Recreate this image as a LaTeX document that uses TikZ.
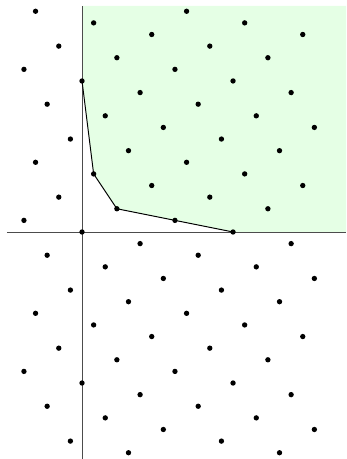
\documentclass[tikz,border=0pt]{standalone}
\begin{document}
\begin{tikzpicture}[x=0.3cm,y=0.3cm,
  region/.style={fill=green!10,draw=none},
  axisline/.style={draw=black!70,line width=0.7pt},
  hull/.style={draw=black,line width=0.7pt,line join=round},
  latpt/.style={fill=black}]
\useasboundingbox (-7.06,-19.54) rectangle (22.73,19.97);
\coordinate (h0) at (0,13);
\coordinate (h1) at (1,5);
\coordinate (h2) at (3,2);
\coordinate (h3) at (8,1);
\coordinate (h4) at (13,0);
\coordinate (top) at (0,19.46);
\coordinate (tr) at (22.73,19.46);
\coordinate (br) at (22.73,0);
\coordinate (xl) at (-6.46,0);
\coordinate (yb) at (0,-19.5);
\fill[region] (top) -- (h0) -- (h1) -- (h2) -- (h3) -- (h4) -- (br) -- (tr) -- cycle;
\draw[axisline] (xl) -- (br);
\draw[axisline] (yb) -- (top);
\draw[hull] (h0) -- (h1) -- (h2) -- (h3) -- (h4);
\foreach \x in {-5,...,20}{
  \foreach \y in {-19,...,19}{
    \pgfmathtruncatemacro\r{Mod(\y-5*\x,13)}
    \ifnum\r=0 \fill[latpt] (\x,\y) circle[radius=0.23]; \fi
  }
}
\end{tikzpicture}
\end{document}
